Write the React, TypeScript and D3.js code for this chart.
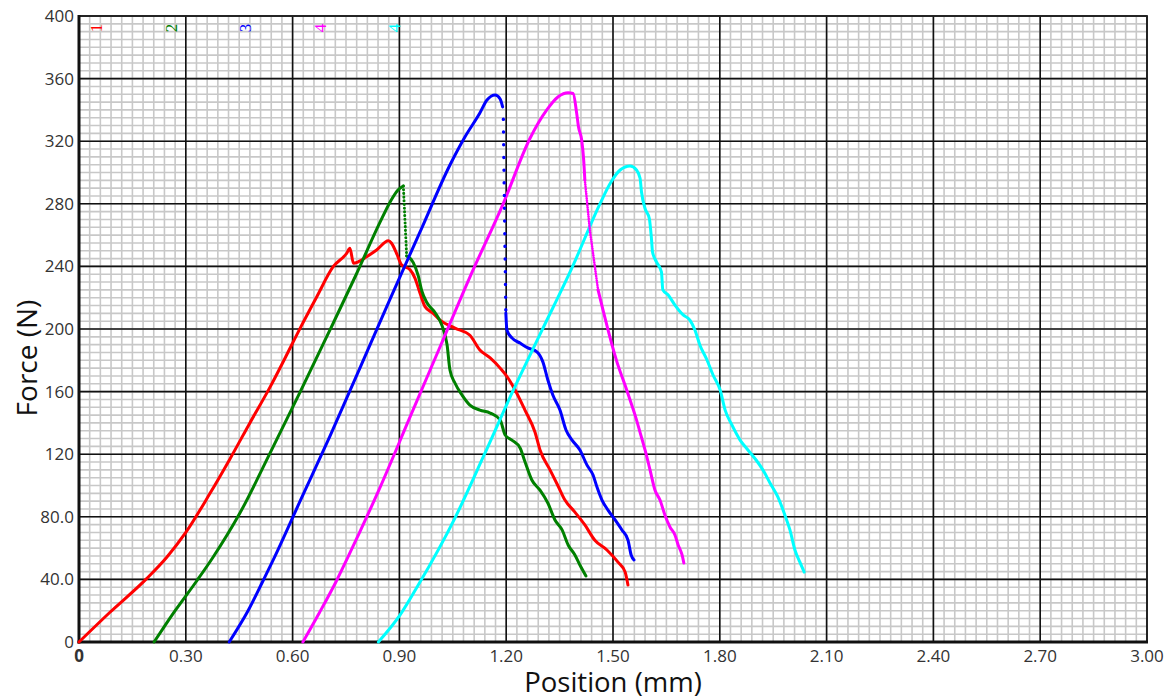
import React from 'react';
import * as d3 from 'd3';

// force (N) vs position (mm)
const xTickValues = [0, 0.3, 0.6, 0.9, 1.2, 1.5, 1.8, 2.1, 2.4, 2.7, 3.0];
const xTickLabels = ['0', '0.30', '0.60', '0.90', '1.20', '1.50', '1.80', '2.10', '2.40', '2.70', '3.00'];
const yTickValues = [0, 40, 80, 120, 160, 200, 240, 280, 320, 360, 400];
const yTickLabels = ['0', '40.0', '80.0', '120', '160', '200', '240', '280', '320', '360', '400'];

const seriesNames = ['1', '2', '3', '4', '4'];
const seriesColors = ['#ff0000', '#008000', '#0000ff', '#ff00ff', '#00ffff'];

// sample 1 (red)
const curve1: [number, number][] = [
  [0, 0], [0.087, 19], [0.19, 40.5], [0.246, 54], [0.3, 70], [0.368, 95],
  [0.424, 117], [0.48, 140], [0.537, 163], [0.579, 181.5], [0.621, 200.4],
  [0.668, 220.6], [0.714, 239.8], [0.752, 248.4], [0.761, 251.6], [0.771, 242],
  [0.785, 243], [0.808, 246.2], [0.836, 250.5], [0.869, 256.4], [0.878, 254.8],
  [0.892, 248.4], [0.906, 241], [0.93, 237.8], [0.944, 232.4], [0.958, 222.8],
  [0.972, 214.3], [0.995, 210], [1.014, 205.7], [1.056, 200.6], [1.098, 196],
  [1.126, 186.6], [1.155, 181.5], [1.183, 175], [1.205, 168.7], [1.225, 161],
  [1.253, 148], [1.281, 134], [1.295, 122.7], [1.323, 110], [1.345, 100],
  [1.365, 90.7], [1.393, 83], [1.421, 74.8], [1.449, 65], [1.483, 58.8],
  [1.514, 51], [1.534, 44.7], [1.542, 36.4],
];

// sample 2 (green)
const curve2Rise: [number, number][] = [
  [0.211, 0], [0.24, 10], [0.27, 20], [0.329, 38.5], [0.376, 54], [0.452, 82.4],
  [0.537, 120.8], [0.621, 159.7], [0.705, 199.4], [0.778, 234.5], [0.846, 268.4],
  [0.874, 281.2], [0.896, 288.8], [0.911, 291.4],
];
const curve2Drop: [number, number][] = [[0.911, 291.4], [0.92, 248.6]];
const curve2Fall: [number, number][] = [
  [0.92, 246.7], [0.939, 242.4], [0.953, 233.9], [0.963, 224.3], [0.977, 216.9],
  [1.0, 210.5], [1.02, 202], [1.034, 189.8], [1.042, 173.8], [1.056, 165.5],
  [1.076, 157.8], [1.098, 151.4], [1.126, 148.2], [1.155, 146.3], [1.183, 141.9],
  [1.197, 132.3], [1.216, 129], [1.239, 124], [1.253, 115], [1.272, 103.5],
  [1.295, 97], [1.317, 88.8], [1.337, 78], [1.357, 71.6], [1.374, 62],
  [1.393, 55.6], [1.407, 49.2], [1.424, 42.2],
];

// sample 3 (blue)
const curve3Rise: [number, number][] = [
  [0.422, 0], [0.476, 20.4], [0.518, 39.6], [0.551, 55], [0.621, 90],
  [0.705, 131.6], [0.789, 175], [0.874, 219.2], [0.958, 262], [1.042, 304.8],
  [1.084, 322.7], [1.126, 338], [1.146, 346.3], [1.169, 349.5], [1.183, 347],
  [1.19, 341.9],
];
const curve3Drop: [number, number][] = [[1.192, 334], [1.199, 210.2]];
const curve3Fall: [number, number][] = [
  [1.199, 210.2], [1.202, 199.4], [1.216, 194.3], [1.239, 191], [1.261, 187.9],
  [1.287, 185.3], [1.303, 179], [1.317, 167.4], [1.331, 157.8], [1.351, 148.2],
  [1.368, 135.5], [1.385, 129], [1.407, 122.7], [1.427, 113], [1.444, 106.7],
  [1.455, 99], [1.469, 90.7], [1.486, 84.3], [1.506, 78], [1.525, 71.6],
  [1.542, 65.2], [1.551, 55.6], [1.559, 52.4],
];

// sample 4 (magenta)
const curve4Rise: [number, number][] = [
  [0.629, 0], [0.676, 19], [0.723, 39], [0.756, 54.5], [0.846, 99],
  [0.93, 143.8], [1.014, 188.5], [1.098, 233.2], [1.192, 280.3], [1.267, 321.9],
  [1.314, 340], [1.346, 348.4], [1.374, 351], [1.388, 350.5], [1.398, 337.8],
  [1.403, 329.3], [1.412, 320.8], [1.417, 310], [1.421, 295.2],
];
const curve4Drop: [number, number][] = [[1.421, 295.2], [1.435, 263.3], [1.458, 225]];
const curve4Fall: [number, number][] = [
  [1.458, 225], [1.472, 212], [1.486, 199.4], [1.497, 190], [1.511, 179],
  [1.534, 164], [1.548, 154.6], [1.562, 145], [1.576, 134], [1.59, 122.7],
  [1.604, 110], [1.618, 97], [1.632, 90.7], [1.646, 81], [1.66, 73.5],
  [1.674, 68.4], [1.683, 62], [1.694, 55.6], [1.699, 50.5],
];

// sample 4 repeat (cyan)
const curve5: [number, number][] = [
  [0.841, 0], [0.902, 17.3], [0.953, 36.4], [1.056, 79.2], [1.138, 119.5],
  [1.216, 159], [1.301, 199.4], [1.385, 239.2], [1.464, 280.3], [1.492, 293],
  [1.52, 301.6], [1.548, 304.2], [1.566, 301.6], [1.576, 296.3], [1.58, 287.7],
  [1.59, 277], [1.602, 270.6], [1.608, 257.8], [1.611, 249.3], [1.622, 242.9],
  [1.636, 236.5], [1.64, 225], [1.655, 221.7], [1.674, 215.3], [1.697, 209],
  [1.716, 205.7], [1.73, 199.4], [1.744, 189.8], [1.764, 180.2], [1.781, 170.6],
  [1.801, 161], [1.815, 148.2], [1.834, 138.7], [1.857, 129], [1.879, 122.7],
  [1.902, 116.3], [1.921, 110], [1.941, 101.6], [1.963, 92.7], [1.983, 81],
  [1.997, 71.6], [2.011, 58.8], [2.025, 51], [2.037, 44.7],
];

const W = 1174;
const H = 700;
const x = d3.scaleLinear().domain([0, 3]).range([79, 1147]);
const y = d3.scaleLinear().domain([0, 400]).range([642, 16]);

const smoothLine = d3.line<[number, number]>()
  .x(d => x(d[0]))
  .y(d => y(d[1]))
  .curve(d3.curveMonotoneX);

const straightLine = d3.line<[number, number]>()
  .x(d => x(d[0]))
  .y(d => y(d[1]));

const solidParts = [
  { data: curve1, color: seriesColors[0] },
  { data: curve2Rise, color: seriesColors[1] },
  { data: curve2Fall, color: seriesColors[1] },
  { data: curve3Rise, color: seriesColors[2] },
  { data: curve3Fall, color: seriesColors[2] },
  { data: curve4Rise, color: seriesColors[3] },
  { data: curve4Fall, color: seriesColors[3] },
  { data: curve5, color: seriesColors[4] },
];

// sparse sampling during fast drops shows up as dots
const dottedParts = [
  { data: curve2Drop, color: seriesColors[1], dash: '0.1 3.6', width: 3 },
  { data: curve3Drop, color: seriesColors[2], dash: '0.1 12.6', width: 3.4 },
  { data: curve4Drop, color: seriesColors[3], dash: '0.1 2.2', width: 2.6 },
];

const minorX = d3.range(0, 3.0001, 0.03);
const minorY = d3.range(0, 400.001, 5);

const tickFont = '"Open Sans", "DejaVu Sans", sans-serif';

export default function App() {
  return (
    <svg width={W} height={H} style={{ position: 'absolute', left: 0, top: 0, background: '#fff' }}>
      <g className="minor-grid">
        {minorX.map((v, i) => (
          <line key={'mx' + i} x1={x(v)} x2={x(v)} y1={y(0)} y2={y(400)} stroke="#c8c8c8" strokeWidth={1.6} />
        ))}
        {minorY.map((v, i) => (
          <line key={'my' + i} x1={x(0)} x2={x(3)} y1={y(v)} y2={y(v)} stroke="#c8c8c8" strokeWidth={1.6} />
        ))}
      </g>
      <g className="major-grid">
        {xTickValues.map((v, i) => (
          <line key={'gx' + i} x1={x(v)} x2={x(v)} y1={y(0)} y2={y(400)} stroke="#111" strokeWidth={1.6} />
        ))}
        {yTickValues.map((v, i) => (
          <line key={'gy' + i} x1={x(0)} x2={x(3)} y1={y(v)} y2={y(v)} stroke="#111" strokeWidth={1.6} />
        ))}
      </g>
      <rect x={x(0)} y={y(400)} width={x(3) - x(0)} height={y(0) - y(400)} fill="none" stroke="#222" strokeWidth={1.8} />
      <line x1={x(0)} x2={x(0)} y1={y(400) - 1} y2={y(0) + 1.5} stroke="#111" strokeWidth={3} />
      <line x1={x(0) - 1.5} x2={x(3) + 1} y1={y(0)} y2={y(0)} stroke="#111" strokeWidth={3} />

      <g className="curves" fill="none" strokeLinejoin="round" strokeLinecap="round">
        {solidParts.map((p, i) => (
          <path key={'s' + i} d={smoothLine(p.data) || ''} stroke={p.color} strokeWidth={3} />
        ))}
        {dottedParts.map((p, i) => (
          <path key={'d' + i} d={straightLine(p.data) || ''} stroke={p.color} strokeWidth={p.width} strokeDasharray={p.dash} />
        ))}
      </g>

      <g className="y-ticks" fontFamily={tickFont} fontSize={17} fill="#333" textAnchor="end">
        {yTickValues.map((v, i) => (
          <text key={'ty' + i} x={x(0) - 5} y={y(v)} dy="0.35em">{yTickLabels[i]}</text>
        ))}
      </g>
      <g className="x-ticks" fontFamily={tickFont} fontSize={17} fill="#333" textAnchor="middle">
        {xTickValues.map((v, i) => (
          <text key={'tx' + i} x={x(v)} y={y(0) + 14} dy="0.35em" fontWeight={i === 0 ? 'bold' : 'normal'}>{xTickLabels[i]}</text>
        ))}
      </g>

      <g className="series-labels" fontFamily='"Liberation Serif", "DejaVu Serif", serif' fontSize={17} textAnchor="middle">
        {seriesNames.map((n, i) => (
          <text key={'sl' + i} transform={`translate(${96 + i * 74.6},${28}) rotate(-90)`} dy="0.35em" fill={seriesColors[i]}>{n}</text>
        ))}
      </g>

      <text transform={`translate(27,${358}) rotate(-90)`} textAnchor="middle" dy="0.35em" fontFamily={tickFont} fontSize={28} fill="#111">Force (N)</text>
      <text x={(x(0) + x(3)) / 2} y={682} textAnchor="middle" dy="0.35em" fontFamily={tickFont} fontSize={27.5} fill="#111">Position (mm)</text>
    </svg>
  );
}
